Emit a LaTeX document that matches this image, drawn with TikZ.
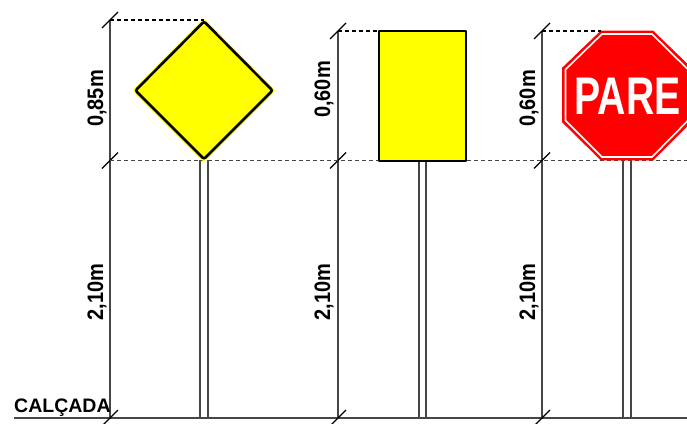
\documentclass[tikz,border=0pt]{standalone}
\usepackage{fontspec}
\setmainfont{Liberation Sans}
\definecolor{signyellow}{RGB}{255,255,0}
\definecolor{signred}{RGB}{255,0,0}
\definecolor{dimgrey}{RGB}{70,70,70}
\begin{document}
\begin{tikzpicture}[x=1pt,y=-1pt,
  dimline/.style={draw=dimgrey,line width=1.3pt},
  tick/.style={draw=black,line width=1.1pt},
  leader/.style={draw=black,line width=1.2pt,dash pattern=on 4pt off 3pt},
  leadergrey/.style={draw=dimgrey,line width=1.4pt,dash pattern=on 4pt off 3pt},
  post/.style={draw=dimgrey,line width=1.4pt},
  dimlabel/.style={font=\fontsize{20}{22}\selectfont\bfseries,rotate=90,yscale=1.12,inner sep=0pt,text=black,anchor=base},
  yellowface/.style={fill=signyellow,draw=black,line width=2.6pt,line join=round}]
\useasboundingbox (0,0) rectangle (687,423);
\clip (0,0) rectangle (687,423);
% reference points
\foreach \n/\x in {a/110,b/338,c/542}{
  \coordinate (\n0) at (\x,418);
  \coordinate (\n1) at (\x,160.5);
}
\coordinate (a2) at (110,20);
\coordinate (b2) at (338,31);
\coordinate (c2) at (542,31);
\coordinate (groundL) at (14,418);
\coordinate (groundR) at (687,418);
\coordinate (midL) at (110,160.5);
\coordinate (midR) at (687,160.5);
% posts
\foreach \x/\y in {200/160,208/160,419/161,426/161,623/160,631/160}{
  \coordinate (pt) at (\x,\y);
  \coordinate (pb) at (\x,418);
  \draw[post] (pt) -- (pb);
}
% ground and dimension lines
\draw[dimline] (groundL) -- (groundR);
\foreach \n in {a,b,c}{
  \draw[dimline] (\n2) -- (\n0);
  \foreach \i in {0,1,2}{
    \draw[tick] ([shift={(-8,8)}]\n\i) -- ([shift={(8,-8)}]\n\i);
  }
}
\draw[leadergrey] (midL) -- (midR);
% diamond
\coordinate (dT) at (204,21.5);
\coordinate (dR) at (272.5,90.5);
\coordinate (dB) at (204,159);
\coordinate (dL) at (135.5,90.5);
\draw[draw=signyellow,fill=signyellow,line width=4.4pt,line join=round] (dT)--(dR)--(dB)--(dL)--cycle;
\draw[yellowface,rounded corners=2pt] (dT)--(dR)--(dB)--(dL)--cycle;
\draw[leader] (a2) -- (dT |- a2);
% rectangle
\node[yellowface,outer sep=0pt,minimum width=87pt,minimum height=130pt,inner sep=0pt,anchor=north west] (rect) at (379,31) {};
\draw[leader] (b2) -- (rect.north west);
% octagon
\coordinate (o1) at (601,31);
\coordinate (o2) at (653,31);
\coordinate (o3) at (691,68);
\coordinate (o4) at (691,122);
\coordinate (o5) at (653,160);
\coordinate (o6) at (601,160);
\coordinate (o7) at (562.5,122);
\coordinate (o8) at (562.5,68);
\draw[fill=signred,draw=signred,line width=0.8pt,line join=round] (o1)--(o2)--(o3)--(o4)--(o5)--(o6)--(o7)--(o8)--cycle;
\draw[draw=white,line width=1.6pt,line join=miter] (602,34)--(652,34)--(688,69.5)--(688,120.5)--(652,157)--(602,157)--(565.5,120.5)--(565.5,69.5)--cycle;
\draw[leader] (c2) -- (o1);
\node[font=\fontsize{53}{55}\selectfont\bfseries,text=white,inner sep=0pt,xscale=0.74,anchor=center] (pare) at (627.5,96) {PARE};
% labels
\node[dimlabel] (l1) at (103,98.5) {0,85m};
\node[dimlabel] (l2) at (103,292) {2,10m};
\node[dimlabel] (l3) at (330,89.5) {0,60m};
\node[dimlabel] (l4) at (330,292) {2,10m};
\node[dimlabel] (l5) at (535,98.5) {0,60m};
\node[dimlabel] (l6) at (535,292) {2,10m};
\node[font=\fontsize{19.5}{20}\selectfont\bfseries,anchor=base west,inner sep=0pt] (calcada) at (14,412) {CALÇADA};
\end{tikzpicture}
\end{document}
